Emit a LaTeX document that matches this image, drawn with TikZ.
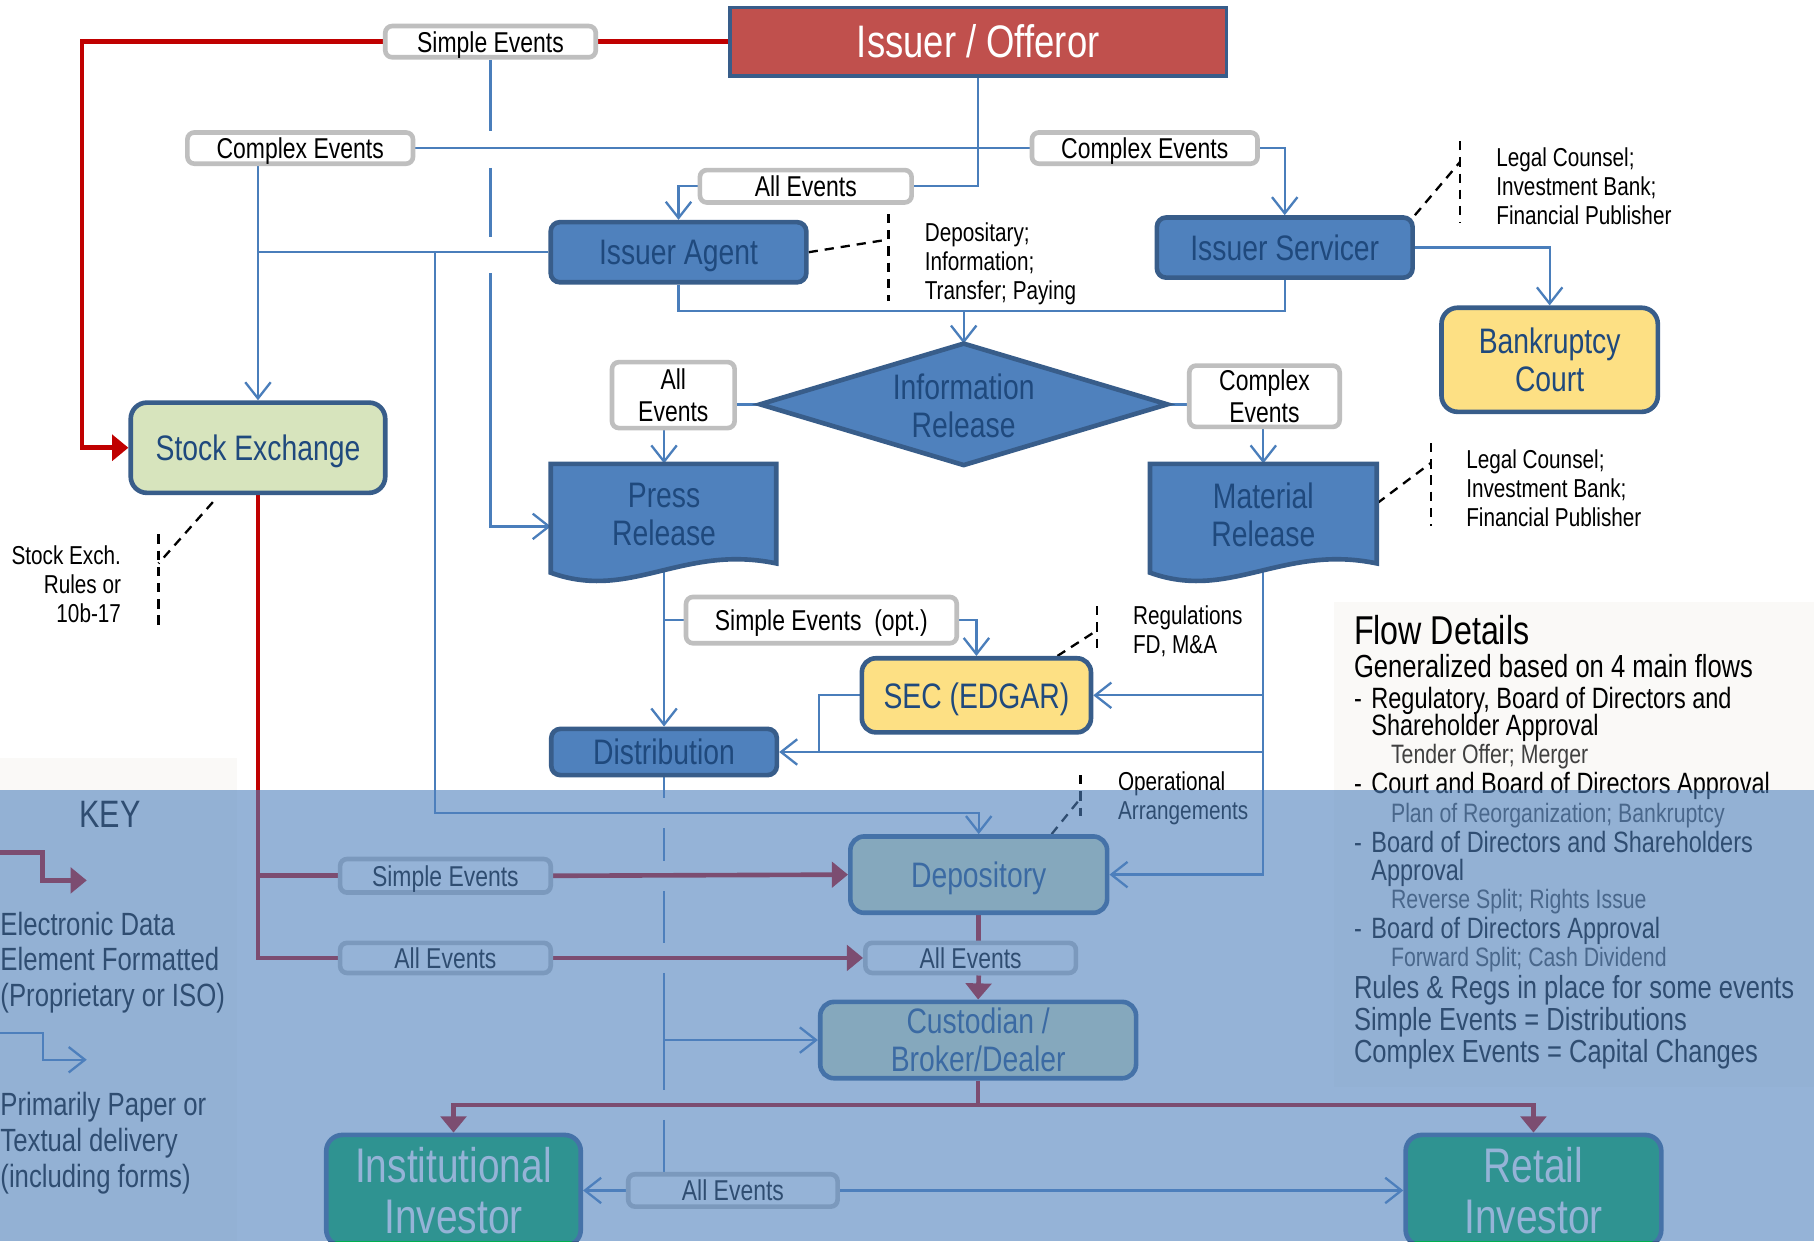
\documentclass[tikz,border=0pt]{standalone}
\usepackage{fontspec}
\setmainfont{Liberation Sans}[FakeStretch=0.8]
\usetikzlibrary{arrows.meta,calc}

\definecolor{boxblue}{HTML}{4F81BD}
\definecolor{boxedge}{HTML}{385D8A}
\definecolor{boxtext}{HTML}{1F497D}
\definecolor{wireblue}{HTML}{4A7EBB}
\definecolor{flowred}{HTML}{C00000}
\definecolor{lblgray}{HTML}{BFBFBF}
\definecolor{issuerred}{HTML}{C0504D}
\definecolor{palegreen}{HTML}{D7E4BD}
\definecolor{paleyellow}{HTML}{FDE084}
\definecolor{invgreen}{HTML}{00B050}
\definecolor{panelwhite}{HTML}{FAF9F7}
\definecolor{subgray}{HTML}{404040}

\newcommand\setsz[2]{\fontsize{#1}{#2}\selectfont}

\pgfdeclarelayer{panel}
\pgfdeclarelayer{wires}
\pgfsetlayers{panel,wires,main}

\tikzset{
  wire/.style={draw=wireblue, line width=1pt},
  barb/.style={-{Straight Barb[length=7pt,width=11pt]}},
  redwire/.style={draw=flowred, line width=2pt},
  redtip/.style={-{Triangle[length=7pt,width=11pt]}},
  evlabel/.style={draw=lblgray, line width=2pt, fill=white, rounded corners=3pt,
    inner sep=0pt, font=\setsz{12.4}{14}, text=black, align=center, text depth=0pt},
  boxbase/.style={draw=boxedge, line width=2pt, inner sep=0pt, align=center,
    text=boxtext, font=\setsz{15.3}{16.5}, text depth=0pt},
  bluebox/.style={boxbase, fill=boxblue, rounded corners=4pt},
  greenbox/.style={boxbase, fill=palegreen, rounded corners=7pt},
  yellowbox/.style={boxbase, fill=paleyellow, rounded corners=7pt},
  investorbox/.style={boxbase, fill=invgreen, rounded corners=7pt, text=white,
    font=\setsz{21}{22}},
  issuerbox/.style={draw=boxedge, line width=1.5pt, fill=issuerred, inner sep=0pt,
    text=white, font=\setsz{19.7}{22}},
  textonly/.style={inner sep=0pt, align=center, text=boxtext, font=\setsz{15.3}{16.5}},
  note/.style={font=\setsz{11.2}{12.5}, align=left, inner sep=0pt, anchor=west},
  notedash/.style={draw=black, dash pattern=on 4pt off 3pt, line width=1pt},
  flowmain/.style={font=\setsz{13.8}{15}, inner sep=0pt, anchor=base west},
  flowitem/.style={font=\setsz{12.7}{14}, inner sep=0pt, anchor=base west},
  flowsub/.style={font=\setsz{11.5}{13}, inner sep=0pt, anchor=base west, text=subgray},
  keytext/.style={font=\setsz{13.9}{15.5}, align=left, inner sep=0pt, anchor=west},
}

\begin{document}
\begin{tikzpicture}[x=0.5pt,y=-0.5pt]
\useasboundingbox (0,0) rectangle (1568,1073);

% page and side panels
\begin{pgfonlayer}{panel}
  \fill[white] (0,0) rectangle (1568,1073);
  \fill[panelwhite] (1153,520) rectangle (1568,940);
  \fill[panelwhite] (0,655) rectangle (205,1073);
\end{pgfonlayer}

% special shapes: decision diamond and document sheets
\filldraw[fill=boxblue, draw=boxedge, line width=2pt, line join=miter]
  (833,297) -- (1009,349.5) -- (833,402) -- (657,349.5) -- cycle;
\filldraw[fill=boxblue, draw=boxedge, line width=2pt]
  (476,401) -- (671,401) -- (671,487) .. controls (590,470) and (545,520) .. (476,495) -- cycle;
\filldraw[fill=boxblue, draw=boxedge, line width=2pt]
  (994,401) -- (1190,401) -- (1190,487) .. controls (1109,470) and (1063,520) .. (994,495) -- cycle;

% nodes
\node[issuerbox, minimum width=214.5pt, minimum height=29.5pt] (issuer) at (845.5,36) {Issuer / Offeror};
\node[evlabel, minimum width=91pt, minimum height=13.5pt] (seTop) at (424,36) {Simple Events};
\node[evlabel, minimum width=97.5pt, minimum height=13.5pt] (ceL) at (259.5,128) {Complex Events};
\node[evlabel, minimum width=91.5pt, minimum height=14pt] (aeTop) at (696.5,161) {All Events};
\node[evlabel, minimum width=97.5pt, minimum height=13.5pt] (ceR) at (989.5,128) {Complex Events};
\node[bluebox, minimum width=110.5pt, minimum height=26pt] (agent) at (586.5,218) {Issuer Agent};
\node[bluebox, minimum width=110.5pt, minimum height=26pt] (servicer) at (1110.5,214) {Issuer Servicer};
\node[yellowbox, minimum width=93.5pt, minimum height=45pt] (bank) at (1339.5,311) {Bankruptcy\\Court};
\node[textonly, minimum width=176pt, minimum height=52.5pt] (diam) at (833,351) {Information\\Release};
\node[evlabel, minimum width=53pt, minimum height=28.5pt] (aeMid) at (582,341.5) {All\\Events};
\node[evlabel, minimum width=65pt, minimum height=26.5pt] (ceMid) at (1093,342.5) {Complex\\Events};
\node[textonly, minimum width=97.5pt, minimum height=44pt] (press) at (574,445) {Press\\Release};
\node[textonly, minimum width=98pt, minimum height=44pt] (material) at (1092,445) {Material\\Release};
\node[greenbox, minimum width=110pt, minimum height=39pt] (stock) at (223,387) {Stock Exchange};
\node[evlabel, minimum width=117pt, minimum height=20pt] (seOpt) at (710,536) {Simple Events \ (opt.)};
\node[yellowbox, rounded corners=6pt, minimum width=99pt, minimum height=32pt] (sec) at (844,601) {SEC (EDGAR)};
\node[bluebox, minimum width=97.5pt, minimum height=20pt] (dist) at (574,650) {Distribution};
\node[greenbox, rounded corners=6pt, minimum width=111pt, minimum height=33pt] (depo) at (846,756) {Depository};
\node[evlabel, minimum width=91pt, minimum height=14.5pt] (seBot) at (385,757) {Simple Events};
\node[evlabel, minimum width=91pt, minimum height=13pt] (allL) at (385,828) {All Events};
\node[evlabel, minimum width=91pt, minimum height=13pt] (allR) at (839,828) {All Events};
\node[greenbox, rounded corners=6pt, minimum width=136.5pt, minimum height=33pt] (cust) at (845.5,899) {Custodian /\\Broker/Dealer};
\node[investorbox, minimum width=110pt, minimum height=48pt] (inst) at (392,1029) {Institutional\\Investor};
\node[investorbox, minimum width=110.5pt, minimum height=48pt] (retail) at (1325.5,1029) {Retail\\Investor};
\node[evlabel, minimum width=90.5pt, minimum height=14pt] (aeBot) at (633.5,1029) {All Events};

% connectors
\begin{pgfonlayer}{wires}
  % electronic (red) flows
  \draw[redwire] (issuer.west) -- (seTop.east);
  \draw[redwire, redtip] (seTop.west) -- (71,36) |- (stock.west);
  \draw[redwire] (stock.south) |- (allL.west);
  \draw[redwire] (223,757) -- (seBot.west);
  \draw[redwire, redtip] (seBot.east) -- (depo.west);
  \draw[redwire, redtip] (allL.east) -- (allR.west);
  \draw[redwire] (depo.south) -- (depo.south |- allR.north);
  \draw[redwire, redtip] (depo.south |- allR.south) -- (cust.north);
  \draw[redwire] (cust.south) -- (845.5,955);
  \draw[redwire, redtip] (845.5,955) -| (inst.north);
  \draw[redwire, redtip] (845.5,955) -| (retail.north);

  % paper (blue) flows
  \draw[wire] (issuer.south) |- (aeTop.east);
  \draw[wire, barb] (aeTop.west) -| (agent.north);
  \draw[wire] (ceL.east) -- (ceR.west);
  \draw[wire, barb] (ceR.east) -| (servicer.north);
  \draw[wire, barb] (stock.north |- ceL.south) -- (stock.north);
  \draw[wire] (stock.north |- agent.west) -- (agent.west);
  \draw[wire, barb] (376,218) |- (depo.north |- 0,703) -- (depo.north);
  \draw[wire] (seTop.south) -- (424,113);
  \draw[wire] (424,145) -- (424,205);
  \draw[wire, barb] (424,236) |- ([yshift=-5pt]press.west);
  \draw[wire, barb] (agent.south) |- (833,269) -- (833,297);
  \draw[wire] (servicer.south) |- (833,269);
  \draw[wire, barb] (servicer.east) -| (bank.north);
  \draw[wire] (657,349.5) -- (aeMid.east |- 0,349.5);
  \draw[wire, barb] (press.north |- aeMid.south) -- (press.north);
  \draw[wire] (1009,349.5) -- (ceMid.west |- 0,349.5);
  \draw[wire, barb] (material.north |- ceMid.south) -- (material.north);
  \draw[wire, barb] (press.south) -- (dist.north);
  \draw[wire] (seOpt.west) -- (press.south |- seOpt.west);
  \draw[wire, barb] (seOpt.east) -| (sec.north);
  \draw[wire, barb] (material.south) |- (depo.east);
  \draw[wire, barb] (material.south |- sec.east) -- (sec.east);
  \draw[wire, barb] (material.south |- dist.east) -- (dist.east);
  \draw[wire] (sec.west) -| (708,650);
  \draw[wire] (dist.south) -- (574,690);
  \draw[wire] (574,716) -- (574,744);
  \draw[wire] (574,770) -- (574,815);
  \draw[wire] (574,841) -- (574,942);
  \draw[wire] (574,968) -- (aeBot.north -| 574,0);
  \draw[wire, barb] (574,899) -- (cust.west);
  \draw[wire, barb] (aeBot.west) -- (inst.east);
  \draw[wire, barb] (aeBot.east) -- (retail.west);

  % legend arrows
  \coordinate (keyRed) at (0,737);
  \coordinate (keyBlue) at (0,893);
  \draw[redwire, redtip] (keyRed) -- (37,737) -- (37,761) -- (75,761);
  \draw[wire, barb] (keyBlue) -- (37,893) -- (37,916) -- (75,916);

  % call-out leaders
  \draw[notedash] (agent.east) -- (768,207);
  \draw[notedash] (768,185) -- (768,260);
  \draw[notedash] (servicer.north east) -- (1262,140);
  \draw[notedash] (1262,122) -- (1262,193);
  \draw[notedash] ([yshift=5pt]material.east) -- (1237,400);
  \draw[notedash] (1237,383) -- (1237,455);
  \draw[notedash] ([xshift=-19.5pt,yshift=-3pt]stock.south) -- (137,487);
  \draw[notedash] (137,462) -- (137,540);
  \draw[notedash] ([xshift=-15.5pt]sec.north east) -- (948,545);
  \draw[notedash] (948,524) -- (948,560);
  \draw[notedash] ([xshift=-25pt]depo.north east) -- (934,690);
  \draw[notedash] (934,670) -- (934,705);
\end{pgfonlayer}

% call-out texts
\node[note] (nDep) at (799,228) {Depositary;\\Information;\\Transfer; Paying};
\node[note] (nLegA) at (1293,161) {Legal Counsel;\\Investment Bank;\\Financial Publisher};
\node[note] (nLegB) at (1267,422) {Legal Counsel;\\Investment Bank;\\Financial Publisher};
\node[note, anchor=east, align=right] (nSE) at (105,505) {Stock Exch.\\Rules or\\10b-17};
\node[note] (nReg) at (979,545.5) {Regulations\\FD, M\&A};
\node[note] (nOps) at (966,690) {Operational\\Arrangements};

% flow details
\node[font=\setsz{17.4}{19}, inner sep=0pt, anchor=base west] (fdT) at (1170,557.5) {Flow Details};
\node[flowmain] (fd1) at (1170,586) {Generalized based on 4 main flows};
\node[flowitem] (fdd1) at (1170,612) {-};
\node[flowitem] (fd2) at (1185,612) {Regulatory, Board of Directors and};
\node[flowitem] (fd3) at (1185,636) {Shareholder Approval};
\node[flowsub] (fd4) at (1202,660) {Tender Offer; Merger};
\node[flowitem] (fdd2) at (1170,686) {-};
\node[flowitem] (fd5) at (1185,686) {Court and Board of Directors Approval};
\node[flowsub] (fd6) at (1202,711) {Plan of Reorganization; Bankruptcy};
\node[flowitem] (fdd3) at (1170,737) {-};
\node[flowitem] (fd7) at (1185,737) {Board of Directors and Shareholders};
\node[flowitem] (fd8) at (1185,761) {Approval};
\node[flowsub] (fd9) at (1202,785) {Reverse Split; Rights Issue};
\node[flowitem] (fdd4) at (1170,811) {-};
\node[flowitem] (fd10) at (1185,811) {Board of Directors Approval};
\node[flowsub] (fd11) at (1202,835) {Forward Split; Cash Dividend};
\node[flowmain] (fd12) at (1170,863) {Rules \& Regs in place for some events};
\node[flowmain] (fd13) at (1170,891) {Simple Events = Distributions};
\node[flowmain] (fd14) at (1170,918) {Complex Events = Capital Changes};

% legend
\node[font=\setsz{16.5}{18}, inner sep=0pt] (key) at (95,704) {KEY};
\node[keytext] (keyA) at (0,832) {Electronic Data\\Element Formatted\\(Proprietary or ISO)};
\node[keytext] (keyB) at (0,988) {Primarily Paper or\\Textual delivery\\(including forms)};

% translucent band over the lower part
\fill[boxblue, opacity=0.6] (0,683) rectangle (1568,1073);
\end{tikzpicture}
\end{document}
